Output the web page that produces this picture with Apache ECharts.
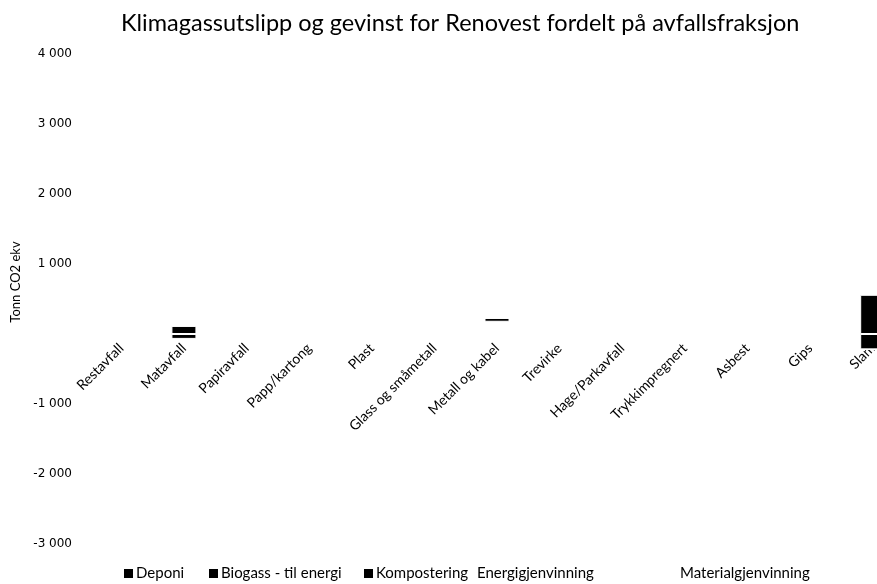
<!DOCTYPE html>
<html>
<head>
<meta charset="utf-8">
<title>Klimagassutslipp og gevinst</title>
<script src="https://cdn.jsdelivr.net/npm/echarts@6/dist/echarts.min.js"></script>
<style>
  html, body { margin: 0; padding: 0; background: #fff; }
  #chart { width: 877px; height: 584px; }
</style>
</head>
<body>
<div id="chart"></div>
<script>
// kategorier (avfallsfraksjoner)
const categories = ['Restavfall', 'Matavfall', 'Papiravfall', 'Papp/kartong', 'Plast',
  'Glass og småmetall', 'Metall og kabel', 'Trevirke', 'Hage/Parkavfall',
  'Trykkimpregnert', 'Asbest', 'Gips', 'Slam']

// verdier per behandling (tonn CO2 ekv), lest av figuren
const deponi = [0, 0, 0, 0, 0, 0, 55, 0, 0, 0, 0, 0, 560]
const biogass = [0, -70, 0, 0, 0, 0, 0, 0, 0, 0, 0, 0, -220]
const kompostering = [0, 115, 0, 0, 0, 0, 0, 0, 0, 0, 0, 0, 0]
const energigjenvinning = [0, 0, 0, 0, 0, 0, 0, 0, 0, 0, 0, 0, 0]
const materialgjenvinning = [0, 0, 0, 0, 0, 0, 175, 0, 0, 0, 0, 0, 0]

// y-akse
const yMin = -3000
const yMax = 4000
const yStep = 1000
const yTickLabels = ['-3 000', '-2 000', '-1 000', '', '1 000', '2 000', '3 000', '4 000']

const legendNames = ['Deponi', 'Biogass - til energi', 'Kompostering', 'Energigjenvinning', 'Materialgjenvinning']
// posisjon for hver legend-post (Excel sprer dem ujevnt)
const legendLeft = [124, 209, 364, 465, 668]

const chart = echarts.init(document.getElementById('chart'))

const font = 'Lato'

// grid-mål, brukes for å legge x-aksen på nullinjen
const gridTop = 54
const gridBottom = 40
const gridHeight = 584 - gridTop - gridBottom
// avstand fra bunnen av grid opp til null
const zeroOffset = gridHeight * (0 - yMin) / (yMax - yMin)

// felles stil for stablede søyler
function barSeries (name, data, color) {
  return {
    name: name,
    type: 'bar',
    stack: 'total',
    barWidth: 25,
    data: data,
    itemStyle: {
      color: color,
      borderColor: '#fff',
      borderWidth: 1
    }
  }
}

const option = {
  backgroundColor: '#fff',
  animation: false,
  title: {
    text: 'Klimagassutslipp og gevinst for Renovest fordelt på avfallsfraksjon',
    left: 116,
    top: 6,
    textStyle: {
      fontFamily: font,
      fontWeight: 'normal',
      fontSize: 23.5,
      color: '#000'
    }
  },
  // en legend per post for å treffe plasseringen
  legend: legendNames.map((n, i) => ({
    // de hvite seriene får usynlig ikon
    data: [{ name: n, itemStyle: { color: i < 3 ? '#000' : 'rgba(0,0,0,0)', borderWidth: 0 } }],
    left: legendLeft[i],
    top: 566,
    padding: 0,
    itemWidth: 9,
    itemHeight: 9,
    itemGap: 0,
    icon: 'rect',
    selectedMode: false,
    textStyle: {
      fontFamily: font,
      fontSize: 15,
      color: '#000',
      padding: [0, 0, 0, -2]
    }
  })),
  grid: {
    left: 90,
    right: -27,
    top: gridTop,
    bottom: gridBottom,
    outerBoundsMode: 'none'
  },
  xAxis: {
    type: 'category',
    data: categories,
    position: 'bottom',
    offset: -zeroOffset,
    axisLine: { show: false, onZero: false },
    axisTick: { show: false },
    axisLabel: {
      interval: 0,
      rotate: 45,
      margin: 12,
      fontFamily: font,
      fontSize: 14,
      color: '#000'
    }
  },
  yAxis: {
    type: 'value',
    min: yMin,
    max: yMax,
    interval: yStep,
    name: 'Tonn CO2 ekv',
    nameLocation: 'middle',
    nameGap: 66,
    nameTextStyle: {
      fontFamily: font,
      fontSize: 13,
      color: '#000',
      padding: [0, 0, 0, 34]
    },
    axisLine: { show: false },
    axisTick: { show: false },
    splitLine: { show: false },
    axisLabel: {
      margin: 18,
      fontFamily: 'DejaVu Sans',
      fontSize: 12,
      color: '#000',
      formatter: v => yTickLabels[Math.round((v - yMin) / yStep)]
    }
  },
  // hvite serier først i stabelen
  series: [
    barSeries('Materialgjenvinning', materialgjenvinning, '#fff'),
    barSeries('Energigjenvinning', energigjenvinning, '#fff'),
    barSeries('Deponi', deponi, '#000'),
    barSeries('Biogass - til energi', biogass, '#000'),
    barSeries('Kompostering', kompostering, '#000')
  ]
}

chart.setOption(option)
</script>
</body>
</html>
